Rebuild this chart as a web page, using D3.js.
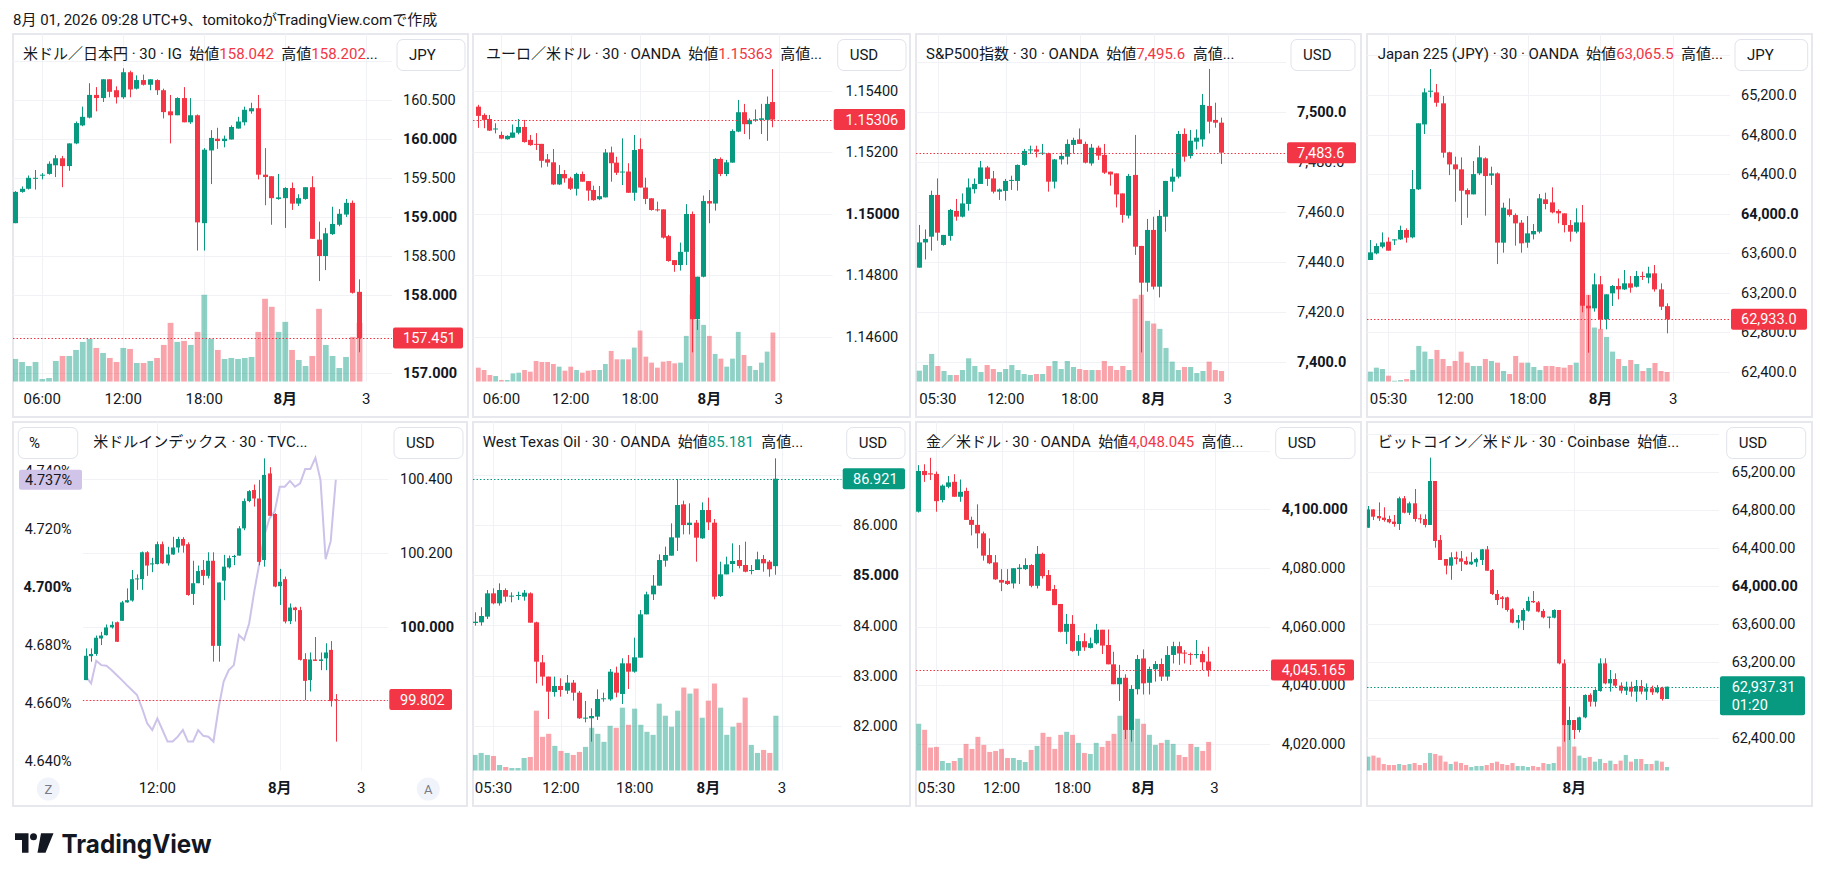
<!DOCTYPE html>
<html><head><meta charset="utf-8">
<script src="https://cdn.jsdelivr.net/npm/d3@7"></script>
<style>
body{margin:0;background:#fff;}
svg{display:block;font-family:Roboto,"Noto Sans CJK JP",sans-serif;}
text{white-space:pre;}
</style></head><body>
<svg id="c" width="1825" height="881"></svg>
<script>
// ---------------- DATA ----------------
const headerText = "8月 01, 2026 09:28 UTC+9、tomitokoがTradingView.comで作成";

// [open, high, low, close]
const usdjpyOHLC = [
[158.92,159.33,158.92,159.32],[159.32,159.39,159.31,159.36],[159.36,159.53,159.35,159.50],[159.49,159.60,159.35,159.50],
[159.53,159.56,159.48,159.54],[159.55,159.71,159.54,159.68],[159.66,159.79,159.51,159.75],[159.75,159.78,159.38,159.65],
[159.65,159.94,159.59,159.94],[159.94,160.22,159.93,160.20],[160.17,160.41,160.16,160.28],[160.27,160.71,160.26,160.56],
[160.56,160.66,160.35,160.52],[160.52,160.76,160.47,160.76],[160.76,160.76,160.53,160.60],[160.62,160.67,160.45,160.53],
[160.53,160.90,160.51,160.85],[160.85,160.87,160.53,160.63],[160.64,160.81,160.63,160.75],[160.75,160.82,160.68,160.69],
[160.69,160.76,160.62,160.76],[160.75,160.76,160.56,160.62],[160.62,160.64,160.26,160.34],[160.35,160.56,159.94,160.30],
[160.30,160.53,160.30,160.52],[160.52,160.66,160.21,160.21],[160.21,160.52,160.19,160.30],[160.30,160.31,158.57,158.93],
[158.92,159.88,158.57,159.86],[159.85,160.11,159.42,160.01],[160.00,160.14,159.87,159.97],[159.97,160.04,159.89,160.00],
[159.99,160.17,159.99,160.15],[160.13,160.28,160.13,160.22],[160.21,160.41,160.17,160.37],[160.35,160.46,160.32,160.39],
[160.39,160.56,159.48,159.54],[159.54,159.88,159.15,159.51],[159.52,159.52,158.90,159.24],[159.23,159.55,159.22,159.25],
[159.24,159.38,158.86,159.37],[159.37,159.44,159.09,159.17],[159.17,159.29,159.14,159.24],[159.23,159.38,159.22,159.38],
[159.38,159.52,158.72,158.72],[158.71,158.94,158.18,158.50],[158.50,158.86,158.32,158.79],[158.78,159.13,158.77,158.91],
[158.90,159.10,158.88,159.04],[159.03,159.23,159.00,159.18],[159.18,159.21,158.02,158.03],[158.042,158.202,157.27,157.451]];
const usdjpyVol = [68,59,47,59,8,11,62,77,77,95,119,128,101,86,71,59,101,98,56,56,62,71,110,176,119,122,110,149,260,128,95,68,71,68,71,74,149,248,224,149,179,95,65,47,77,218,110,77,41,74,134,176];

const eurusdOHLC = [
[1.15348,1.15354,1.15279,1.15318],[1.15321,1.15326,1.15278,1.15305],[1.15308,1.15321,1.15269,1.15270],[1.15276,1.15294,1.15261,1.15277],
[1.15256,1.15267,1.15242,1.15244],[1.15242,1.15255,1.15241,1.15253],[1.15247,1.15290,1.15247,1.15264],[1.15263,1.15308,1.15258,1.15282],
[1.15282,1.15305,1.15231,1.15233],[1.15240,1.15256,1.15221,1.15223],[1.15227,1.15262,1.15207,1.15224],[1.15227,1.15227,1.15150,1.15172],
[1.15177,1.15194,1.15153,1.15166],[1.15167,1.15210,1.15093,1.15095],[1.15095,1.15158,1.15093,1.15129],[1.15129,1.15142,1.15101,1.15115],
[1.15115,1.15120,1.15077,1.15081],[1.15081,1.15133,1.15059,1.15129],[1.15129,1.15137,1.15104,1.15104],[1.15106,1.15106,1.15042,1.15075],
[1.15077,1.15091,1.15042,1.15044],[1.15047,1.15090,1.15044,1.15057],[1.15053,1.15210,1.15053,1.15199],[1.15199,1.15218,1.15104,1.15164],
[1.15166,1.15185,1.15126,1.15133],[1.15135,1.15245,1.15093,1.15137],[1.15137,1.15164,1.15068,1.15068],[1.15068,1.15256,1.15042,1.15207],
[1.15210,1.15245,1.15085,1.15085],[1.15085,1.15117,1.15031,1.15048],[1.15050,1.15050,1.15010,1.15012],[1.15014,1.15039,1.15007,1.15011],
[1.15014,1.15014,1.14919,1.14922],[1.14927,1.14931,1.14844,1.14846],[1.14849,1.14849,1.14811,1.14833],[1.14833,1.14906,1.14815,1.14876],
[1.14876,1.15031,1.14833,1.14999],[1.14999,1.15007,1.14549,1.14657],[1.14657,1.14795,1.14622,1.14795],[1.14795,1.15059,1.14793,1.15041],
[1.15041,1.15077,1.14969,1.15033],[1.15033,1.15181,1.15010,1.15178],[1.15178,1.15183,1.15122,1.15129],[1.15129,1.15175,1.15122,1.15167],
[1.15166,1.15274,1.15166,1.15269],[1.15267,1.15370,1.15265,1.15330],[1.15330,1.15357,1.15259,1.15291],[1.15291,1.15310,1.15242,1.15305],
[1.15304,1.15339,1.15299,1.15307],[1.15305,1.15357,1.15259,1.15310],[1.15305,1.15381,1.15237,1.15357],[1.15363,1.15470,1.15281,1.15306]];
const eurusdVol = [42,35,20,17,5,5,25,27,35,30,62,59,59,53,45,33,45,35,27,33,35,35,53,92,67,67,67,102,153,75,57,42,60,62,55,57,137,260,185,170,137,83,69,45,69,149,80,47,35,57,90,147];

const spxOHLC = [
[7437.6,7454.7,7437.6,7447.7],[7447.7,7452.9,7440.9,7449.1],[7450.0,7468.4,7444.4,7466.7],[7466.7,7473.3,7448.4,7451.6],
[7446.7,7450.7,7446.4,7450.7],[7450.3,7461.1,7448.4,7460.7],[7460.3,7465.1,7456.4,7458.0],[7458.0,7467.3,7457.7,7463.3],
[7463.1,7473.3,7460.4,7469.7],[7469.0,7473.3,7467.3,7471.1],[7471.1,7480.3,7471.1,7477.7],[7477.7,7478.3,7470.3,7473.1],
[7473.3,7476.3,7467.3,7468.0],[7468.0,7469.3,7464.7,7468.9],[7468.3,7473.1,7464.4,7472.3],[7472.5,7474.4,7468.7,7472.7],
[7472.3,7478.9,7468.4,7478.7],[7478.7,7485.1,7478.4,7484.3],[7484.7,7486.4,7483.1,7484.9],[7484.9,7486.4,7481.7,7484.0],
[7483.3,7487.1,7482.7,7483.6],[7483.3,7483.6,7468.0,7472.0],[7472.0,7481.1,7469.3,7480.9],[7480.9,7483.6,7478.9,7482.3],
[7482.0,7488.9,7478.9,7487.1],[7486.7,7489.6,7483.3,7488.7],[7488.9,7493.3,7487.1,7487.1],[7487.1,7488.0,7479.3,7479.6],
[7479.3,7487.1,7478.4,7485.6],[7485.6,7486.4,7480.7,7482.4],[7482.7,7487.1,7475.1,7475.6],[7476.0,7476.0,7470.4,7474.9],
[7475.3,7475.3,7461.7,7466.9],[7467.3,7467.3,7455.6,7458.7],[7458.4,7475.1,7457.3,7474.3],[7474.7,7490.7,7442.7,7446.0],
[7446.3,7446.3,7403.7,7431.6],[7431.6,7457.1,7428.0,7452.7],[7452.7,7458.0,7428.9,7430.0],[7430.0,7460.7,7425.7,7458.3],
[7458.0,7472.3,7452.0,7472.3],[7472.0,7477.3,7468.0,7474.0],[7474.0,7492.3,7473.3,7491.1],[7491.1,7493.3,7480.0,7482.0],
[7482.3,7492.7,7481.3,7488.4],[7488.0,7492.9,7484.9,7489.6],[7488.9,7507.1,7486.0,7502.7],[7502.3,7517.1,7491.3,7496.0],
[7496.7,7503.6,7493.6,7495.6],[7495.6,7497.6,7479.1,7483.6]];
const spxVol = [33,50,83,47,32,20,20,35,70,47,29,50,38,29,38,50,35,23,20,23,23,47,62,38,62,44,38,35,35,35,62,47,35,47,35,248,260,182,174,158,101,60,35,44,44,26,32,60,35,32];

const jp225OHLC = [
[63532,63734,63532,63609],[63599,63700,63589,63673],[63666,63811,63650,63710],[63717,63761,63626,63626],
[63734,63740,63683,63740],[63740,63879,63734,63835],[63835,63852,63707,63757],[63761,64441,63751,64249],
[64246,64913,64239,64913],[64902,65266,64805,65226],[65232,65462,65175,65243],[65226,65310,65081,65121],
[65115,65189,64566,64616],[64620,64626,64390,64498],[64498,64576,64121,64448],[64448,64569,63885,64232],
[64239,64256,63959,64195],[64195,64532,64195,64400],[64407,64687,64390,64569],[64559,64569,63980,64380],
[64384,64475,64290,64407],[64407,64417,63491,63707],[63707,64111,63606,64060],[64043,64155,63970,63986],
[63986,64003,63677,63902],[63909,63936,63606,63700],[63707,63976,63656,63801],[63791,63895,63740,63825],
[63818,64199,63801,64155],[64145,64212,64044,64098],[64114,64266,64003,64013],[64027,64044,63902,64003],
[64003,64003,63811,63885],[63885,63936,63717,63818],[63818,64054,63801,63912],[63912,64087,63003,63070],
[63070,63178,62595,63043],[63043,63397,63010,63286],[63286,63370,62831,62932],[62932,63185,62831,63185],
[63195,63279,63067,63269],[63269,63346,63134,63235],[63235,63431,63229,63296],[63296,63370,63202,63252],
[63262,63421,63255,63370],[63370,63414,63330,63363],[63353,63464,63296,63397],[63397,63481,63212,63235],
[63235,63296,63026,63060],[63065.5,63094,62791,62933]];
const jp225Vol = [30,42,38,18,3,5,8,35,107,90,68,95,68,47,62,90,57,47,47,68,62,57,32,23,77,57,57,44,35,47,47,44,42,50,57,240,260,162,158,134,90,68,47,65,53,32,41,56,32,29];

const dxyOHLC = [
[99.855,99.941,99.855,99.921],[99.920,99.941,99.905,99.926],[99.926,99.976,99.921,99.970],[99.968,99.986,99.950,99.976],
[99.977,100.006,99.976,99.998],[99.998,100.014,99.995,100.005],[100.012,100.014,99.959,99.959],[100.016,100.070,100.016,100.066],
[100.066,100.104,100.065,100.072],[100.071,100.154,100.068,100.129],[100.129,100.142,100.100,100.131],[100.129,100.204,100.100,100.202],
[100.202,100.205,100.138,100.166],[100.169,100.187,100.148,100.172],[100.170,100.231,100.169,100.224],[100.224,100.231,100.170,100.172],
[100.172,100.217,100.166,100.196],[100.196,100.244,100.195,100.215],[100.215,100.244,100.201,100.238],[100.238,100.243,100.201,100.220],
[100.224,100.229,100.084,100.086],[100.089,100.179,100.059,100.118],[100.118,100.166,100.118,100.151],[100.154,100.181,100.113,100.138],
[100.138,100.202,100.131,100.179],[100.179,100.202,99.905,99.948],[99.948,100.120,99.905,100.120],[100.125,100.195,100.072,100.163],
[100.161,100.193,100.158,100.186],[100.190,100.195,100.167,100.192],[100.193,100.273,100.193,100.267],[100.267,100.348,100.262,100.341],
[100.341,100.371,100.338,100.368],[100.371,100.386,100.326,100.348],[100.348,100.398,100.167,100.176],[100.181,100.457,100.163,100.412],
[100.416,100.433,100.301,100.301],[100.306,100.308,100.107,100.109],[100.110,100.157,100.059,100.122],[100.129,100.136,100.009,100.014],
[100.015,100.063,100.007,100.052],[100.052,100.054,100.014,100.045],[100.045,100.054,99.908,99.910],[99.912,99.928,99.801,99.853],
[99.855,99.930,99.824,99.911],[99.911,99.972,99.907,99.907],[99.907,99.930,99.882,99.911],[99.914,99.955,99.882,99.930],
[99.937,99.961,99.783,99.798],[99.803,99.817,99.688,99.802]];
// US 10Y yield (%) overlay on the dollar index panel
const us10yPct = [4.6690,4.6667,4.6745,4.6730,4.6728,4.6713,4.6696,4.6679,4.6661,4.6644,4.6627,4.6581,4.6529,4.6506,4.6546,4.6506,4.6466,4.6466,4.6483,4.6506,
4.6466,4.6466,4.6506,4.6486,4.6483,4.6466,4.6581,4.6673,4.6713,4.6730,4.6834,4.6817,4.6874,4.6984,4.7081,4.7179,4.7237,4.7260,4.7346,4.7346,
4.7366,4.7346,4.7358,4.7407,4.7407,4.7446,4.7369,4.7096,4.7158,4.7370];

const wtiOHLC = [
[84.050,84.262,83.997,84.076],[84.063,84.362,83.997,84.189],[84.176,84.706,84.129,84.640],[84.640,84.740,84.421,84.441],
[84.441,84.839,84.395,84.706],[84.706,84.740,84.474,84.574],[84.574,84.660,84.461,84.594],[84.594,84.673,84.507,84.607],
[84.574,84.706,84.494,84.653],[84.640,84.660,84.056,84.056],[84.063,84.076,82.849,83.280],[83.267,83.413,82.803,82.982],
[82.982,82.982,82.139,82.683],[82.676,82.982,82.584,82.796],[82.796,82.949,82.584,82.716],[82.703,83.015,82.637,82.862],
[82.862,82.915,82.504,82.663],[82.663,82.697,82.139,82.153],[82.146,82.498,82.073,82.166],[82.153,82.352,81.688,82.199],
[82.186,82.730,82.119,82.537],[82.531,82.663,82.484,82.551],[82.531,83.134,82.504,83.081],[83.061,83.181,82.571,82.663],
[82.637,83.347,82.438,83.247],[83.247,83.413,82.736,83.081],[83.081,83.758,83.061,83.367],[83.360,84.308,83.360,84.222],
[84.222,84.673,84.222,84.620],[84.620,85.005,84.507,84.793],[84.793,85.416,84.793,85.303],[85.290,85.569,85.171,85.403],
[85.390,86.033,85.390,85.755],[85.748,86.915,85.483,86.398],[86.411,86.484,85.814,86.000],[86.000,86.431,85.814,86.046],
[86.046,86.100,85.270,85.748],[85.735,86.451,85.721,86.298],[86.298,86.544,85.900,86.053],[86.046,86.119,84.521,84.574],
[84.587,85.270,84.567,85.018],[85.018,85.370,85.018,85.217],[85.224,85.635,85.058,85.284],[85.303,85.602,85.138,85.184],
[85.204,85.668,85.058,85.071],[85.085,85.204,85.018,85.104],[85.104,85.469,85.104,85.317],[85.324,85.403,85.071,85.237],
[85.270,85.303,84.972,85.118],[85.181,87.327,85.011,86.921]];
const wtiVol = [47,53,47,44,17,11,8,8,38,41,179,101,110,74,59,53,47,56,71,128,110,86,134,128,188,137,185,137,116,107,200,164,131,179,248,230,245,158,209,260,188,107,131,143,218,77,53,62,53,164];

const goldOHLC = [
[4099.2,4115.1,4098.9,4113.1],[4113.1,4115.4,4109.4,4111.7],[4112.3,4117.6,4110.0,4111.9],[4112.1,4112.9,4099.2,4102.8],
[4103.2,4108.5,4102.4,4108.1],[4107.7,4111.4,4107.2,4109.2],[4109.4,4112.0,4104.3,4104.3],[4104.3,4110.2,4102.6,4106.0],
[4106.3,4107.4,4096.4,4096.4],[4096.4,4097.5,4091.1,4094.7],[4094.7,4101.7,4086.7,4091.8],[4091.8,4092.4,4082.5,4084.2],
[4084.4,4090.1,4081.3,4081.6],[4081.9,4084.4,4075.9,4076.1],[4075.9,4079.6,4072.1,4075.0],[4075.6,4079.6,4074.2,4074.5],
[4074.7,4079.9,4073.0,4079.9],[4079.6,4081.3,4074.5,4080.1],[4079.6,4083.3,4079.3,4081.0],[4081.0,4081.3,4073.4,4073.9],
[4073.9,4087.5,4073.0,4084.8],[4084.8,4085.2,4076.4,4077.2],[4077.6,4079.3,4072.2,4072.2],[4072.8,4074.2,4067.3,4067.3],
[4067.7,4067.7,4058.0,4058.2],[4058.2,4064.3,4054.0,4060.9],[4060.9,4063.9,4051.4,4051.7],[4051.7,4057.1,4050.0,4055.0],
[4055.0,4057.7,4051.7,4052.9],[4052.7,4056.2,4052.5,4054.3],[4054.3,4060.9,4053.9,4058.9],[4058.9,4058.9,4050.6,4053.5],
[4053.7,4059.0,4047.1,4047.1],[4047.1,4051.4,4040.3,4040.3],[4040.3,4046.9,4034.6,4042.5],[4042.5,4043.7,4021.6,4024.7],
[4024.7,4040.0,4020.7,4038.7],[4038.6,4050.3,4036.8,4048.9],[4049.1,4052.2,4036.8,4040.6],[4040.8,4046.3,4036.8,4045.5],
[4045.4,4048.2,4041.2,4047.2],[4047.2,4049.1,4041.4,4042.9],[4042.9,4053.3,4041.5,4050.3],[4050.3,4054.8,4047.4,4053.3],
[4053.3,4054.8,4046.9,4050.8],[4051.1,4052.0,4047.4,4050.8],[4050.6,4051.1,4046.9,4050.4],[4050.3,4055.4,4049.1,4050.6],
[4050.6,4051.7,4045.1,4047.8],[4048.045,4053.1,4042.9,4045.165]];
const goldVol = [140,122,69,71,29,23,29,38,80,65,101,77,56,59,65,38,38,32,26,62,74,113,101,65,107,116,107,83,53,50,83,71,89,110,164,260,147,155,140,107,77,83,92,80,47,41,80,71,59,86];

const btcOHLC = [
[64612,64841,64612,64805],[64805,64805,64693,64728],[64735,64879,64683,64711],[64718,64827,64676,64693],
[64704,64739,64658,64669],[64676,64746,64623,64651],[64651,64939,64588,64922],[64922,64946,64763,64770],
[64770,64886,64746,64869],[64869,65020,64676,64704],[64711,64753,64658,64700],[64704,64753,64616,64641],
[64641,65350,64641,65104],[65104,65104,64402,64472],[64483,64535,64272,64272],[64282,64282,64121,64212],
[64212,64353,64064,64300],[64300,64360,64226,64282],[64289,64367,64156,64254],[64261,64307,64219,64226],
[64226,64353,64219,64254],[64247,64296,64201,64282],[64272,64388,64219,64384],[64384,64419,64159,64159],
[64166,64177,63903,63914],[63914,63956,63798,63850],[63878,63892,63763,63861],[63878,63885,63728,63745],
[63752,63763,63605,63612],[63612,63692,63552,63640],[63633,63763,63534,63745],[63738,63885,63728,63840],
[63840,63945,63819,63826],[63826,63840,63720,63728],[63735,63756,63657,63668],[63664,63675,63552,63675],
[63664,63752,63657,63745],[63745,63745,63173,63183],[63183,63225,62358,62533],[62533,62727,62375,62586],
[62586,62586,62386,62481],[62481,62621,62456,62614],[62614,62857,62604,62850],[62850,62867,62727,62779],
[62779,62920,62727,62902],[62892,63236,62885,63183],[63183,63236,62962,62972],[62972,63113,62885,63018],
[63018,63078,62927,62948],[62948,62983,62867,62895],[62895,62990,62850,62937],[62937,62990,62832,62885],
[62885,63008,62779,62944],[62944,63008,62857,62885],[62885,62972,62797,62920],[62920,62948,62850,62878],
[62878,62955,62867,62927],[62927,62937,62790,62807],[62807,62937.31,62807,62937.31]];
const btcVol = [42,45,39,20,17,17,20,17,20,23,17,23,53,50,45,27,20,27,23,17,11,14,14,17,23,27,20,17,23,14,14,11,14,11,23,20,23,72,260,137,72,45,38,41,27,35,23,30,20,30,47,27,35,35,20,20,30,27,11];

// time-axis labels: [bar index, label]
const timeTicksFx = [[4,"06:00"],[16,"12:00"],[28,"18:00"],[40,"8月"],[52,"3"]];
const timeTicksCfd = [[3,"05:30"],[14,"12:00"],[26,"18:00"],[38,"8月"],[50,"3"]];
const timeTicksDxy = [[14,"12:00"],[38,"8月"],[54,"3"]];
const timeTicksBtc = [[40,"8月"]];

// price-axis ticks (grid lines); labels fully covered by buttons / price tags are not drawn
const usdjpyTicks = [157,157.5,158,158.5,159,159.5,160,160.5,161];
const usdjpyBold = [157,158,159,160];
const eurusdTicks = [1.146,1.148,1.150,1.152,1.154];
const eurusdBold = [1.150];
const spxTicks = [7400,7420,7440,7460,7480,7500,7520];
const spxBold = [7400,7500];
const jp225Ticks = [62400,62800,63200,63600,64000,64400,64800,65200,65600];
const jp225Bold = [64000];
const dxyTicks = [99.8,100.0,100.2,100.4];
const dxyBold = [100.0];
const pctTicks = [4.64,4.66,4.68,4.70,4.72,4.74];
const pctBold = [4.70];
const wtiTicks = [82,83,84,85,86,87];
const wtiBold = [85];
const goldTicks = [4020,4040,4060,4080,4100,4120];
const goldBold = [4100];
const btcTicks = [62400,62800,63200,63600,64000,64400,64800,65200,65600];
const btcBold = [64000];

// titles: [text, colour code 0=dark 1=red 2=green]
const titles = [
 [["米ドル／日本円 · 30 · IG  始値",0],["158.042",1],["  高値",0],["158.202",1],["...",0]],
 [["ユーロ／米ドル · 30 · OANDA  始値",0],["1.15363",1],["  高値...",0]],
 [["S&P500指数 · 30 · OANDA  始値",0],["7,495.6",1],["  高値...",0]],
 [["Japan 225 (JPY) · 30 · OANDA  始値",0],["63,065.5",1],["  高値...",0]],
 [["米ドルインデックス · 30 · TVC...",0]],
 [["West Texas Oil · 30 · OANDA  始値",0],["85.181",2],["  高値...",0]],
 [["金／米ドル · 30 · OANDA  始値",0],["4,048.045",1],["  高値...",0]],
 [["ビットコイン／米ドル · 30 · Coinbase  始値...",0]]
];
const currencies = ["JPY","USD","USD","JPY","USD","USD","USD","USD"];
const lastLabels = ["157.451","1.15306","7,483.6","62,933.0","99.802","86.921","4,045.165","62,937.31"];
const countdown = "01:20";
const pctLast = "4.737%";

// ---------------- LAYOUT ----------------
const RED="#f23645", GREEN="#089981", TXT="#131722", GRID="#f0f2f5", BORDER="#e6e8ed";
const VOL_UP="rgba(8,153,129,0.45)", VOL_DN="rgba(242,54,69,0.45)";
const R1=[34,417,381.7], R2=[422,806,770.7];
const panels = [
 {ohlc:usdjpyOHLC, vol:usdjpyVol, tt:timeTicksFx, ticks:usdjpyTicks, bold:usdjpyBold, fmt:".3f",
  fx:[13,468], row:R1, pl:13, pr:392, xd:[-0.34,55.81], yd:[156.893,161.339], ax:403, bx:[397,465], padR:5, tx:23},
 {ohlc:eurusdOHLC, vol:eurusdVol, tt:timeTicksFx, ticks:eurusdTicks, bold:eurusdBold, fmt:".5f",
  fx:[473,910], row:R1, pl:473, pr:832.7, xd:[-0.92,61.35], yd:[1.144536,1.155843], ax:845.5, bx:[837.7,906], padR:5, tx:486},
 {ohlc:spxOHLC, vol:spxVol, tt:timeTicksCfd, ticks:spxTicks, bold:spxBold, fmt:",.1f",
  fx:[916,1361], row:R1, pl:916, pr:1286, xd:[-0.54,59.46], yd:[7391.99,7531.07], ax:1297, bx:[1291,1355], padR:5, tx:926},
 {ohlc:jp225OHLC, vol:jp225Vol, tt:timeTicksCfd, ticks:jp225Ticks, bold:jp225Bold, fmt:",.1f",
  fx:[1367,1812], row:R1, pl:1367, pr:1730, xd:[-0.55,59.39], yd:[62302,65815.6], ax:1741, bx:[1735,1807.7], padR:5, tx:1377.7},
 {ohlc:dxyOHLC, vol:null, tt:timeTicksDxy, ticks:dxyTicks, bold:dxyBold, fmt:".3f",
  fx:[13,467], row:R2, pl:82.7, pr:388.3, xd:[-0.65,59.3], yd:[99.609,100.5557], ax:400, bx:[394,463], padR:15, tx:93.3},
 {ohlc:wtiOHLC, vol:wtiVol, tt:timeTicksCfd, ticks:wtiTicks, bold:wtiBold, fmt:".3f",
  fx:[473,910], row:R2, pl:473, pr:841.7, xd:[-0.33,59.72], yd:[81.11,88.05], ax:853, bx:[846.7,905], padR:5, tx:482.7},
 {ohlc:goldOHLC, vol:goldVol, tt:timeTicksCfd, ticks:goldTicks, bold:goldBold, fmt:",.3f",
  fx:[916,1361], row:R2, pl:916, pr:1270, xd:[-0.46,59.37], yd:[4010.78,4129.82], ax:1281.7, bx:[1275.7,1355], padR:7, tx:926},
 {ohlc:btcOHLC, vol:btcVol, tt:timeTicksBtc, ticks:btcTicks, bold:btcBold, fmt:",.2f",
  fx:[1367,1812], row:R2, pl:1367, pr:1719, xd:[-0.25,68.1], yd:[62052,65725.7], ax:1731.7, bx:[1726.7,1805.7], padR:7, tx:1377.7}
];

// ---------------- DRAW ----------------
const svg = d3.select("#c");
svg.append("rect").attr("width",1825).attr("height",881).attr("fill","#fff");
svg.append("text").attr("x",13).attr("y",20).attr("dy","0.35em").attr("font-size",15).attr("fill",TXT).text(headerText);
const defs = svg.append("defs");

panels.forEach((P, pi) => {
  const [fx0, fx1] = P.fx, [pt, fy1, pb] = P.row;
  const g = svg.append("g");
  g.append("rect").attr("x",fx0).attr("y",pt).attr("width",fx1-fx0).attr("height",fy1-pt)
    .attr("fill","#fff").attr("stroke",BORDER).attr("stroke-width",2);
  const x = d3.scaleLinear().domain(P.xd).range([P.pl, P.pr]);
  const y = d3.scaleLinear().domain(P.yd).range([pb, pt]);
  const step = x(1) - x(0);
  const bw = Math.max(3, Math.round(step*0.8));
  defs.append("clipPath").attr("id","clip"+pi).append("rect")
    .attr("x",P.pl).attr("y",pt).attr("width",P.pr-P.pl).attr("height",pb-pt);
  const gp = g.append("g").attr("clip-path",`url(#clip${pi})`);

  // grid
  gp.selectAll("line.vg").data(P.tt).join("line").attr("class","vg")
    .attr("x1",d=>Math.round(x(d[0]))+0.5).attr("x2",d=>Math.round(x(d[0]))+0.5)
    .attr("y1",pt).attr("y2",pb).attr("stroke",GRID).attr("stroke-width",1);
  gp.selectAll("line.hg").data(P.ticks).join("line").attr("class","hg")
    .attr("x1",P.pl).attr("x2",P.pr)
    .attr("y1",d=>Math.round(y(d))+0.5).attr("y2",d=>Math.round(y(d))+0.5)
    .attr("stroke",GRID).attr("stroke-width",1);

  // volume
  if (P.vol) {
    const vmax = d3.max(P.vol);
    const vh = d3.scaleLinear().domain([0, vmax]).range([0, (pb-pt)*0.25]);
    gp.selectAll("rect.vol").data(P.vol).join("rect").attr("class","vol")
      .attr("x",(d,i)=>x(i)-(step-1)/2).attr("width",step-1)
      .attr("y",d=>pb-vh(d)).attr("height",d=>vh(d))
      .attr("fill",(d,i)=>P.ohlc[i][3]>=P.ohlc[i][0]?VOL_UP:VOL_DN);
  }

  // yield line overlay (dollar index panel)
  let y2 = null;
  if (pi === 4) {
    y2 = d3.scaleLinear().domain([4.63655,4.75695]).range([pb, pt]);
    gp.append("path").datum(us10yPct)
      .attr("d", d3.line().x((d,i)=>x(i)).y(d=>y2(d)))
      .attr("fill","none").attr("stroke","#cdc2ea").attr("stroke-width",2);
  }

  // candles
  const cg = gp.append("g");
  cg.selectAll("rect.wick").data(P.ohlc).join("rect").attr("class","wick")
    .attr("x",(d,i)=>Math.round(x(i)-bw/2)+Math.floor(bw/2)).attr("width",1)
    .attr("y",d=>y(d[1])).attr("height",d=>Math.max(1,y(d[2])-y(d[1])))
    .attr("fill",d=>d[3]>=d[0]?GREEN:RED);
  cg.selectAll("rect.body").data(P.ohlc).join("rect").attr("class","body")
    .attr("x",(d,i)=>Math.round(x(i)-bw/2)).attr("width",bw)
    .attr("y",d=>y(Math.max(d[0],d[3]))).attr("height",d=>Math.max(1,Math.abs(y(d[0])-y(d[3]))))
    .attr("fill",d=>d[3]>=d[0]?GREEN:RED);

  const last = P.ohlc[P.ohlc.length-1];
  const lastCol = last[3]>=last[0]?GREEN:RED;
  const ly = y(last[3]);
  gp.append("line").attr("x1",P.pl).attr("x2",P.pr).attr("y1",Math.round(ly)+0.5).attr("y2",Math.round(ly)+0.5)
    .attr("stroke",lastCol).attr("stroke-width",1).attr("stroke-dasharray","1.5,2");

  // title
  const tt = g.append("text").attr("x",P.tx).attr("y",pt+20).attr("dy","0.35em").attr("font-size",15).attr("fill",TXT);
  titles[pi].forEach(s => tt.append("tspan").text(s[0]).attr("fill", s[1]===1?RED:(s[1]===2?GREEN:TXT)));

  // price axis labels (skip labels entirely hidden by the currency button or the last-price tag)
  const lh = pi===7 ? 39 : 21;
  const boxTop = ly-10.5, boxBot = boxTop + lh;
  const btnBot = pt + 36.5;
  const visible = v => {
    const yy = y(v);
    if (yy < pt-2 || yy > pb+6) return false;
    if (yy + 6 <= btnBot) return false;
    if (yy - 6 >= boxTop && yy + 6 <= boxBot) return false;
    return true;
  };
  const fmt = d3.format(P.fmt);
  g.selectAll("text.yt").data(P.ticks.filter(visible)).join("text").attr("class","yt")
    .attr("x",P.ax).attr("y",d=>y(d)).attr("dy","0.35em").attr("font-size",14.5)
    .attr("font-weight",d=>P.bold.some(b=>Math.abs(b-d)<1e-9)?700:400)
    .attr("fill",TXT).text(d=>fmt(d));

  // last price label
  const lw = fx1 - P.padR - (P.pr+1);
  g.append("rect").attr("x",P.pr+1).attr("y",boxTop).attr("width",lw).attr("height",lh).attr("rx",2).attr("fill",lastCol);
  g.append("text").attr("x",P.ax).attr("y",ly).attr("dy","0.35em").attr("font-size",14.5).attr("fill","#fff").text(lastLabels[pi]);
  if (pi===7) g.append("text").attr("x",P.ax).attr("y",ly+18).attr("dy","0.35em").attr("font-size",14.5).attr("fill","#fff").text(countdown);

  // currency button
  g.append("rect").attr("x",P.bx[0]).attr("y",pt+5.5).attr("width",P.bx[1]-P.bx[0]).attr("height",31).attr("rx",6)
    .attr("fill","#fff").attr("stroke","#e0e3eb").attr("stroke-width",1);
  g.append("text").attr("x",P.bx[0]+12).attr("y",pt+21).attr("dy","0.35em").attr("font-size",15).attr("fill",TXT).text(currencies[pi]);

  // time labels
  g.selectAll("text.xt").data(P.tt).join("text").attr("class","xt")
    .attr("x",d=>x(d[0])).attr("y",fy1-18).attr("dy","0.35em").attr("text-anchor","middle")
    .attr("font-size",15).attr("font-weight",d=>d[1]==="8月"?700:400).attr("fill",TXT).text(d=>d[1]);

  if (pi === 4) {
    g.selectAll("text.pt").data(pctTicks).join("text").attr("class","pt")
      .attr("x",71.7).attr("y",d=>y2(d)).attr("dy","0.35em").attr("text-anchor","end").attr("font-size",14.5)
      .attr("font-weight",d=>pctBold.some(b=>Math.abs(b-d)<1e-9)?700:400).attr("fill",TXT)
      .text(d=>d3.format(".3f")(d)+"%");
    const py = y2(us10yPct[us10yPct.length-1]);
    g.append("rect").attr("x",19).attr("y",py-10).attr("width",63).attr("height",20).attr("rx",2).attr("fill","#d1c4e9");
    g.append("text").attr("x",25).attr("y",py).attr("dy","0.35em").attr("font-size",14.5).attr("fill",TXT).text(pctLast);
    g.append("rect").attr("x",18.3).attr("y",pt+5.5).attr("width",59.4).attr("height",31).attr("rx",6)
      .attr("fill","#fff").attr("stroke","#e0e3eb");
    g.append("text").attr("x",29).attr("y",pt+21).attr("dy","0.35em").attr("font-size",15).attr("fill",TXT).text("%");
    [[48.3,"Z"],[428.3,"A"]].forEach(c => {
      g.append("circle").attr("cx",c[0]).attr("cy",fy1-17).attr("r",11.5).attr("fill","#f0f3fa");
      g.append("text").attr("x",c[0]).attr("y",fy1-17).attr("dy","0.35em").attr("text-anchor","middle")
        .attr("font-size",13).attr("fill","#787b86").text(c[1]);
    });
  }
});

// footer logo
const lg = svg.append("g").attr("fill","#131722");
lg.append("path").attr("d","M15,833.3 H28.5 V852.7 H22 V840 H15 Z");
lg.append("circle").attr("cx",33.5).attr("cy",836.8).attr("r",3.5);
lg.append("path").attr("d","M41,833.3 H53.5 L45.5,852.7 H37.5 Z");
svg.append("text").attr("x",61.5).attr("y",852.7).attr("font-family","Inter, Roboto, sans-serif")
  .attr("font-weight",700).attr("font-size",25.5).attr("fill","#131722")
  .attr("textLength",150).attr("lengthAdjust","spacingAndGlyphs").text("TradingView");
</script>
</body></html>
